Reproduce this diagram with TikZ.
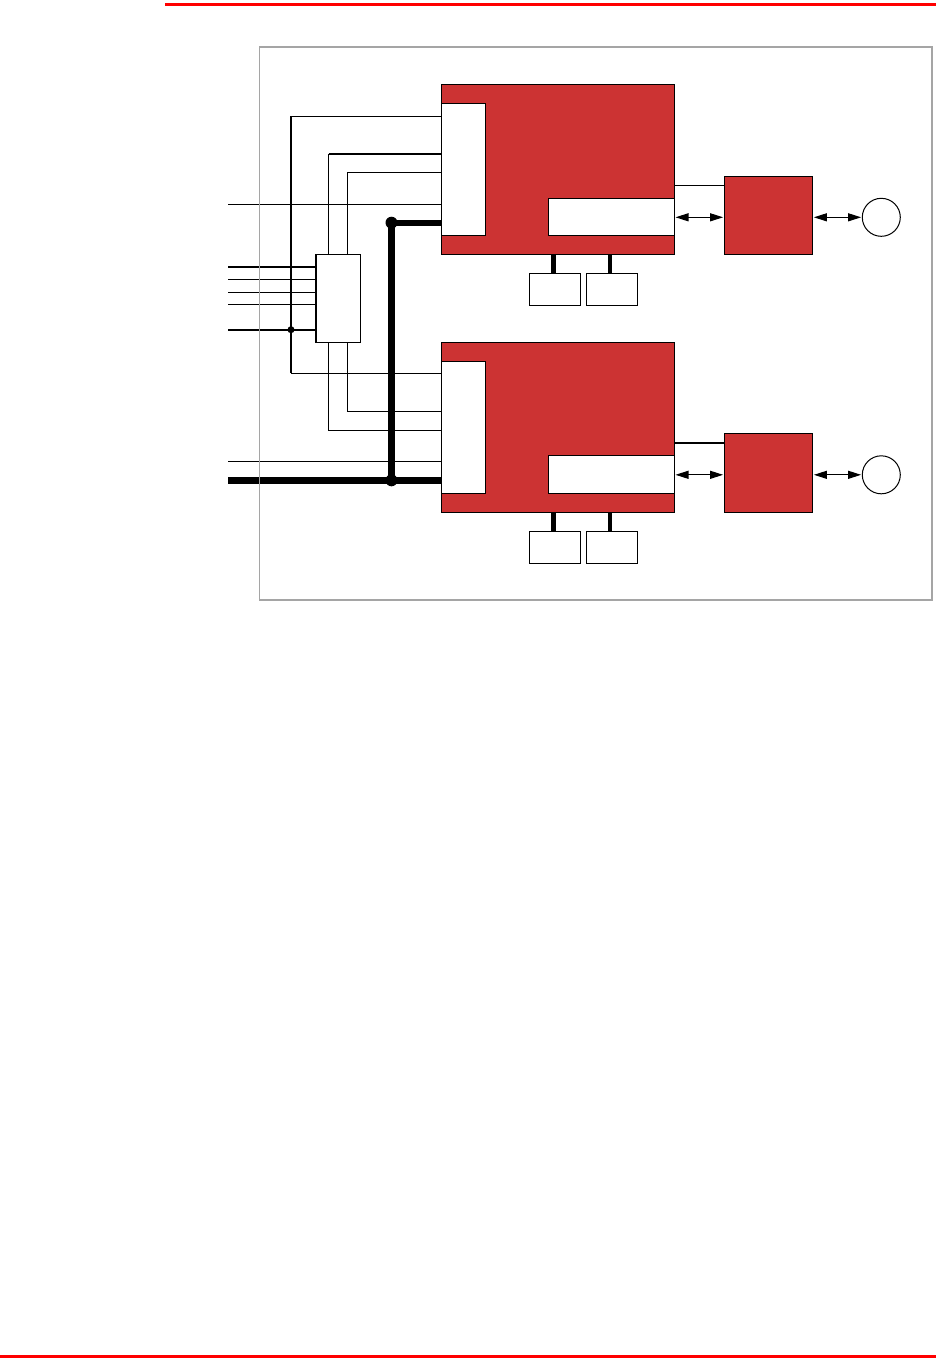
\documentclass[tikz,border=0pt]{standalone}
\usepackage{xcolor}
\usepackage{tikz}
\usetikzlibrary{arrows.meta,positioning,calc}
\definecolor{markRed}  {RGB}{204,51,51}
\definecolor{markRule} {RGB}{255,0,0}
\definecolor{markGrey} {RGB}{165,165,165}
\begin{document}
\begin{tikzpicture}[
      x=0.5pt, y=-0.5pt,
      node distance=25pt,
      redblock/.style={draw=black, line width=0.6pt, fill=markRed, outer sep=0pt,
                  inner sep=0pt, minimum width=116.5pt, minimum height=85pt},
      sideblock/.style={draw=black, line width=0.6pt, fill=markRed, outer sep=0pt,
                  inner sep=0pt, minimum width=44.2pt, minimum height=39pt},
      portbox/.style={draw=black, line width=0.6pt, fill=white, outer sep=0pt,
                  inner sep=0pt, minimum width=22pt, minimum height=66pt},
      lowport/.style={draw=black, line width=0.6pt, fill=white, outer sep=0pt,
                  inner sep=0pt, minimum width=63pt, minimum height=18.5pt},
      subbox/.style={draw=black, line width=0.5pt, fill=white, outer sep=0pt,
                  inner sep=0pt, minimum width=25.4pt, minimum height=16pt},
      muxbox/.style={draw=black, line width=0.8pt, fill=white, outer sep=0pt,
                  inner sep=0pt, minimum width=22.3pt, minimum height=44pt},
      antenna/.style={circle, draw=black, line width=0.5pt, fill=white, outer sep=0pt,
                  inner sep=0pt, minimum size=19pt},
      joint/.style={circle, fill=black, inner sep=0pt, minimum size=#1},
      thinwire/.style={line width=0.55pt, draw=black},
      midwire/.style={line width=1pt, draw=black},
      busstub/.style={line width=2.4pt, draw=black},
      sidestub/.style={line width=2pt, draw=black},
      mainbus/.style={line width=3.2pt, draw=black},
      twoway/.style={{Triangle[length=6.5pt,width=4pt]}-{Triangle[length=6.5pt,width=4pt]},
                  line width=0.55pt, shorten <=0.6pt, shorten >=0.6pt},
      panel/.style={draw=markGrey, line width=0.8pt, inner sep=0pt, outer sep=0pt,
                  minimum width=336.2pt, minimum height=276.5pt},
      pagerule/.style={draw=markRule, line width=1.5pt}]
    \useasboundingbox (0,0) rectangle (936,1362);
    % page rules
    \coordinate (ruleTopL) at (165,4.5);
    \coordinate (ruleTopR) at (936,4.5);
    \coordinate (ruleBotL) at (0,1356);
    \coordinate (ruleBotR) at (936,1356);
    \draw[pagerule] (ruleTopL) -- (ruleTopR);
    \draw[pagerule] (ruleBotL) -- (ruleBotR);
    % upper channel
    \node[redblock] (blockA) at (557.8,169.8) {};
    \node[portbox, above right=9.5pt and 0pt of blockA.south west] (portA) {};
    \node[lowport, above left=9.5pt and 0pt of blockA.south east] (lowA) {};
    \node[sideblock, above right=0pt and 25pt of blockA.south east] (sideA) {};
    \node[subbox, below right=9.5pt and 44pt of blockA.south west] (subAa) {};
    \node[subbox, right=3.1pt of subAa] (subAb) {};
    \coordinate (midA) at (sideA.east |- lowA.east);
    \node[antenna, right=24.8pt of midA] (antA) {};
    % lower channel
    \node[redblock, below=44pt of blockA] (blockB) {};
    \node[portbox, above right=9.5pt and 0pt of blockB.south west] (portB) {};
    \node[lowport, minimum height=19pt, above left=9.5pt and 0pt of blockB.south east] (lowB) {};
    \node[sideblock, minimum height=39.5pt, above right=0pt and 25pt of blockB.south east] (sideB) {};
    \node[subbox, minimum height=15.7pt, below right=9.5pt and 44pt of blockB.south west] (subBa) {};
    \node[subbox, minimum height=15.7pt, right=3.1pt of subBa] (subBb) {};
    \coordinate (midB) at (sideB.east |- lowB.east);
    \node[antenna, right=24.8pt of midB] (antB) {};
    % switch box between the channels
    \node[muxbox] (mux) at (338,298.3) {};
    % free ends and corners
    \coordinate (inSense) at (228,204.3);
    \coordinate (inA) at (228,266.7);
    \coordinate (inB) at (228,279.3);
    \coordinate (inC) at (228,292.3);
    \coordinate (inD) at (228,304.3);
    \coordinate (inE) at (228,329.7);
    \coordinate (inLow) at (228,461.3);
    \coordinate (inBus) at (228,480.3);
    \coordinate (tapTop) at (291,116.3);
    \coordinate (tapBot) at (291,373.3);
    \coordinate (linkAa) at (328.5,153.7);
    \coordinate (linkAb) at (347.5,172.3);
    \coordinate (linkBb) at (347.5,411.3);
    \coordinate (linkBa) at (328.5,430.4);
    \coordinate (busTop) at (391.5,222.7);
    \coordinate (busBot) at (391.5,480.3);
    % wires into the switch box
    \draw[midwire] (inA) -- (inA -| mux.west);
    \draw[thinwire] (inB) -- (inB -| mux.west);
    \draw[thinwire] (inC) -- (inC -| mux.west);
    \draw[thinwire] (inD) -- (inD -| mux.west);
    \draw[midwire] (inE) -- (inE -| mux.west);
    % wires to the ports
    \draw[thinwire] (inSense) -- (inSense -| portA.west);
    \draw[thinwire] (inLow) -- (inLow -| portB.west);
    \draw[midwire] (tapTop) -- (tapBot);
    \draw[thinwire] (tapTop) -- (tapTop -| portA.west);
    \draw[thinwire] (tapBot) -- (tapBot -| portB.west);
    \draw[thinwire] (linkAa |- mux.north) -- (linkAa);
    \draw[midwire] (linkAa) -- (linkAa -| portA.west);
    \draw[thinwire] (linkAb |- mux.north) -- (linkAb) -- (linkAb -| portA.west);
    \draw[thinwire] (linkBb |- mux.south) -- (linkBb) -- (linkBb -| portB.west);
    \draw[thinwire] (linkBa |- mux.south) -- (linkBa) -- (linkBa -| portB.west);
    \node[joint=3.5pt] (tapDot) at (tapTop |- inE) {};
    % power bus
    \draw[mainbus] (busTop) -- (busBot);
    \draw[mainbus] (busTop) -- (busTop -| portA.west);
    \draw[mainbus] (inBus) -- (inBus -| portB.west);
    \node[joint=6pt] (busDotA) at (busTop) {};
    \node[joint=6pt] (busDotB) at (busBot) {};
    % stubs to the small boxes
    \draw[busstub] ([xshift=-0.75pt]subAa.north) -- ([xshift=-0.75pt]subAa.north |- blockA.south);
    \draw[sidestub] ([xshift=-0.9pt]subAb.north) -- ([xshift=-0.9pt]subAb.north |- blockA.south);
    \draw[busstub] ([xshift=-0.75pt]subBa.north) -- ([xshift=-0.75pt]subBa.north |- blockB.south);
    \draw[sidestub] ([xshift=-0.9pt]subBb.north) -- ([xshift=-0.9pt]subBb.north |- blockB.south);
    % right hand side
    \draw[thinwire] ([yshift=34.5pt]blockA.south east) -- ([yshift=34.5pt]blockA.south east -| sideA.west);
    \draw[midwire] ([yshift=35pt]blockB.south east) -- ([yshift=35pt]blockB.south east -| sideB.west);
    \draw[twoway] (lowA.east) -- (lowA.east -| sideA.west);
    \draw[twoway] (midA) -- (antA);
    \draw[twoway] (lowB.east) -- (lowB.east -| sideB.west);
    \draw[twoway] (midB) -- (antB);
    % grey frame goes on top of the wires
    \node[panel] (frame) at (595.7,323.5) {};
  \end{tikzpicture}
\end{document}
